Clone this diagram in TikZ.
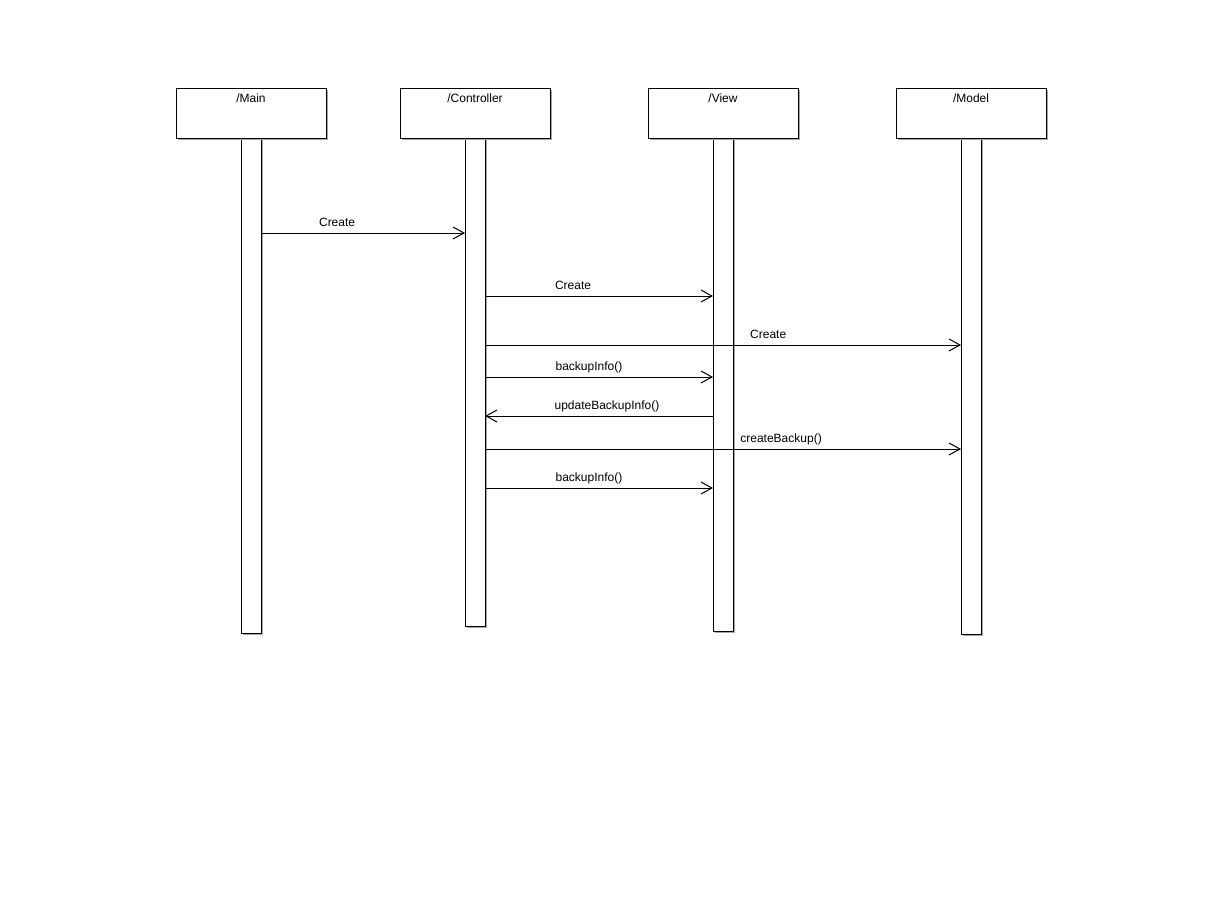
\documentclass[tikz,border=0pt]{standalone}
\usepackage{fontspec}
\setmainfont{Liberation Sans}
\usetikzlibrary{arrows.meta,shadows}
\begin{document}
\begin{tikzpicture}[x=1pt,y=-1pt,line width=1pt,
  font=\fontsize{12pt}{14pt}\selectfont,
  shade/.style={drop shadow={shadow xshift=1.5pt,shadow yshift=-1.5pt,fill=black!35,opacity=1}},
  head/.style={draw,fill=white,shade,minimum width=150,minimum height=50,inner sep=0pt,outer sep=0pt},
  bar/.style={draw,fill=white,shade,minimum width=20,inner sep=0pt,outer sep=0pt},
  title/.style={anchor=base,inner sep=0pt},
  msg/.style={-{Straight Barb[length=11pt,width=12pt]}},
  lbl/.style={anchor=base,yshift=7pt,inner sep=0pt}]
\useasboundingbox[fill=white] (0,0) rectangle (1222,899);

% lifelines
\node[bar,minimum height=495] (mainL) at (251,385.5) {};
\node[bar,minimum height=488] (ctrlL) at (475,382) {};
\node[bar,minimum height=493] (viewL) at (723,384.5) {};
\node[bar,minimum height=496] (modelL) at (971,386) {};

% object headers
\node[head] (mainH) at (251,113) {};
\node[head] (ctrlH) at (475,113) {};
\node[head] (viewH) at (723,113) {};
\node[head] (modelH) at (971,113) {};
\node[title] (mainT) at (251,102) {/Main};
\node[title] (ctrlT) at (475,102) {/Controller};
\node[title] (viewT) at (723,102) {/View};
\node[title] (modelT) at (971,102) {/Model};

% messages
\draw[msg] (mainL.east |- {0,233}) -- (ctrlL.west |- {0,233})
  node[lbl,pos=0.373] {Create};
\draw[msg] (ctrlL.east |- {0,296}) -- (viewL.west |- {0,296})
  node[lbl,pos=0.386] {Create};
\draw[msg] (ctrlL.east |- {0,345}) -- (modelL.west |- {0,345})
  node[lbl,pos=0.595] {Create};
\draw[msg] (ctrlL.east |- {0,377}) -- (viewL.west |- {0,377})
  node[lbl,pos=0.456] {backupInfo()};
\draw[msg] (viewL.west |- {0,416}) -- (ctrlL.east |- {0,416})
  node[lbl,pos=0.465] {updateBackupInfo()};
\draw[msg] (ctrlL.east |- {0,449}) -- (modelL.west |- {0,449})
  node[lbl,pos=0.622] {createBackup()};
\draw[msg] (ctrlL.east |- {0,488}) -- (viewL.west |- {0,488})
  node[lbl,pos=0.456] {backupInfo()};
\end{tikzpicture}
\end{document}
